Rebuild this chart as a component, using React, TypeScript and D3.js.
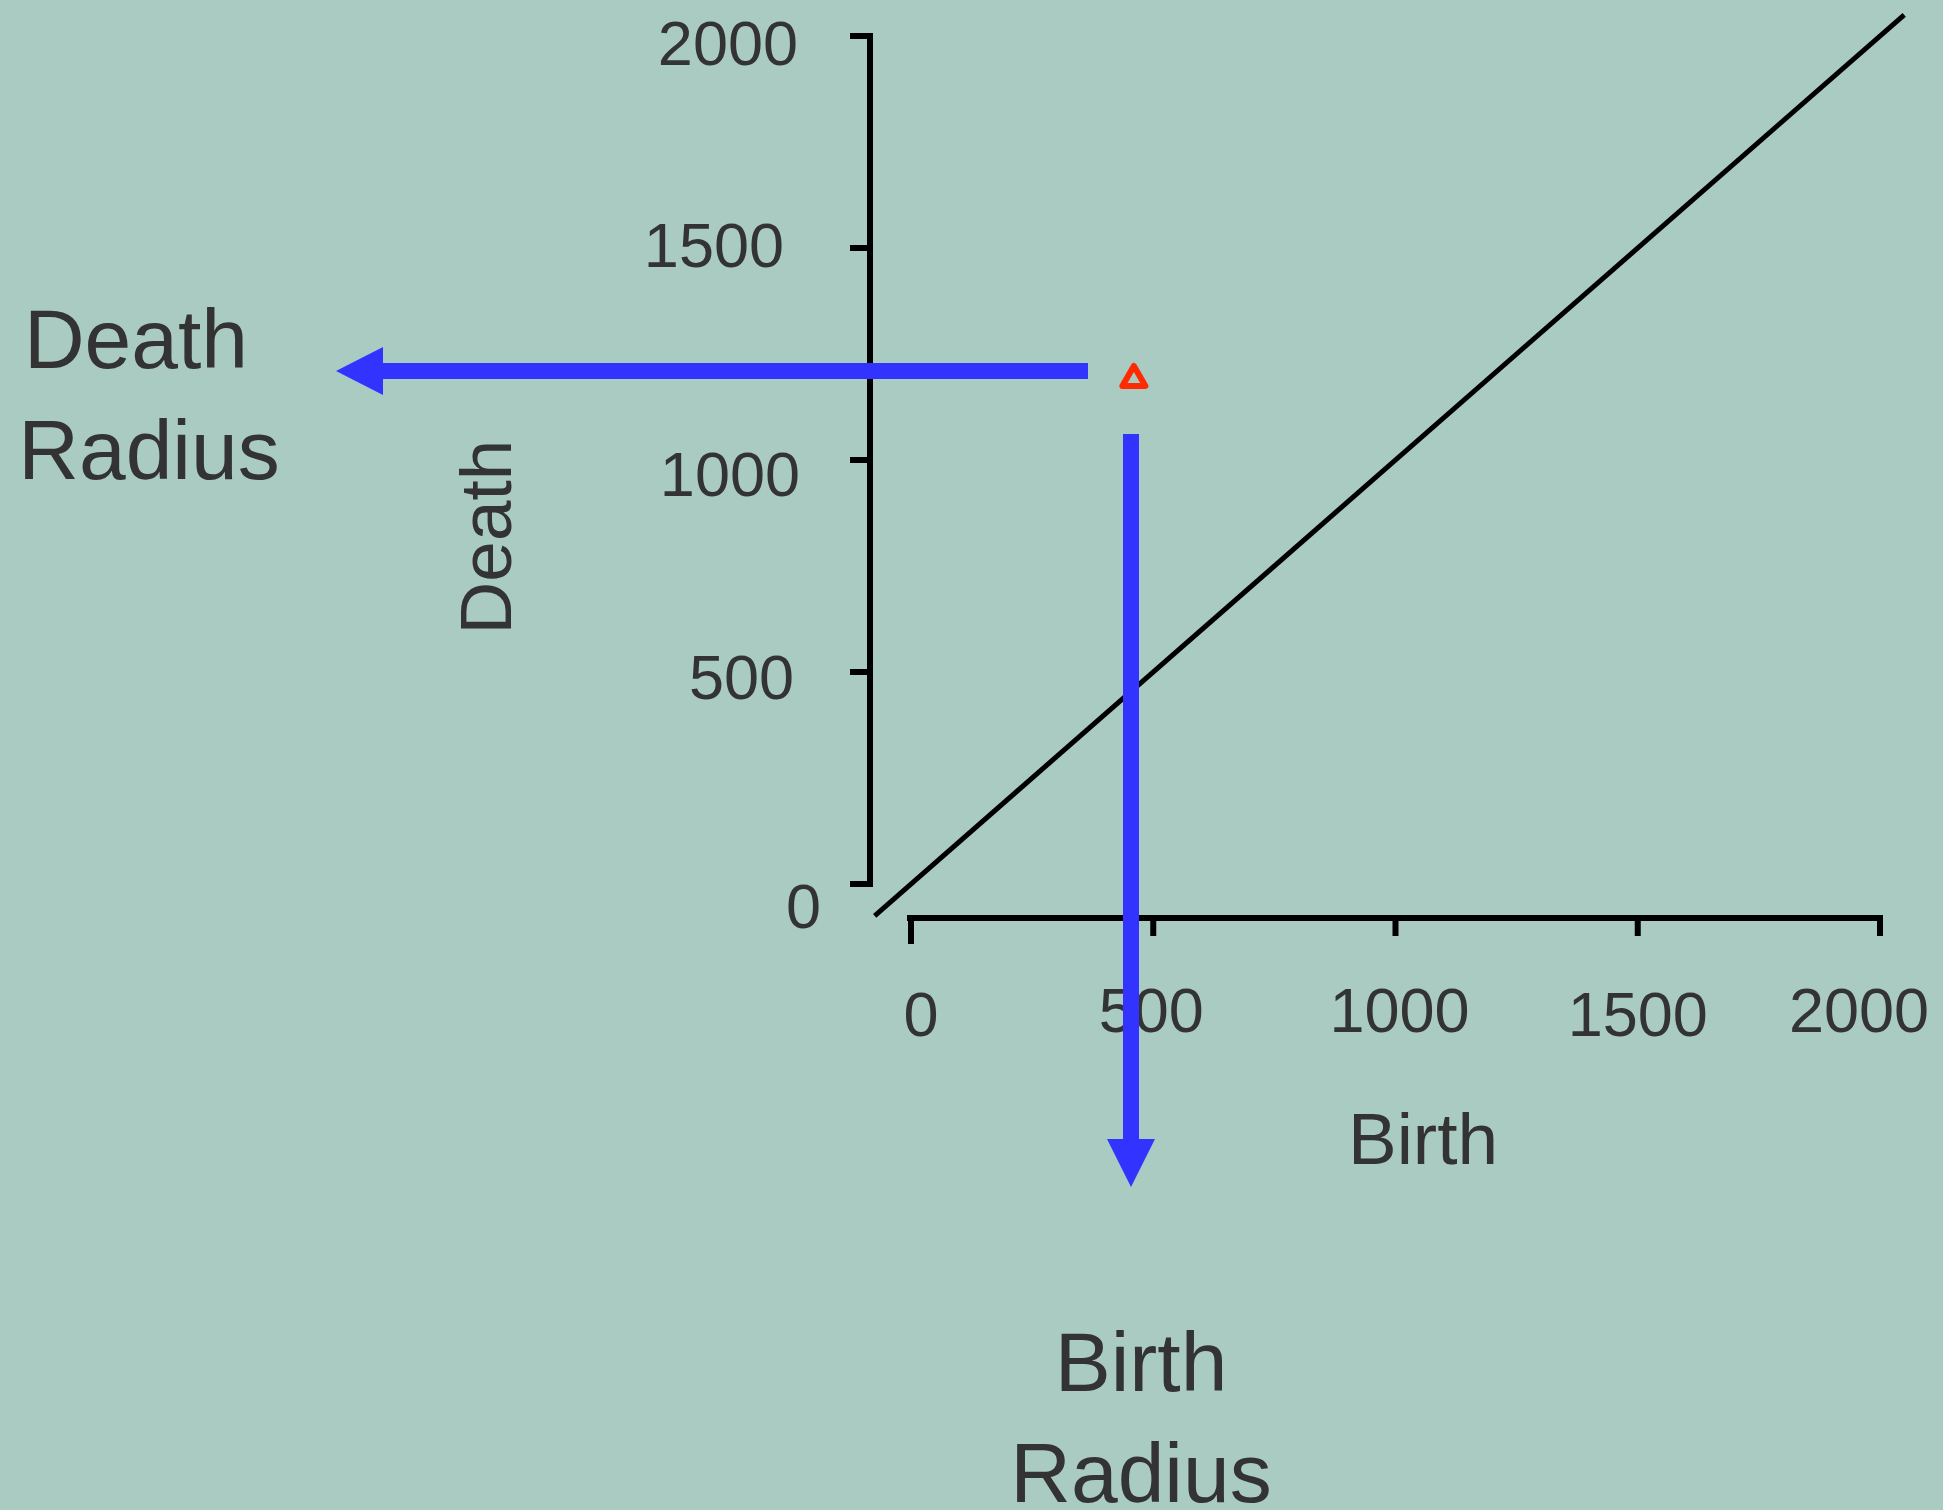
import React from "react";
import * as d3 from "d3";

const xTicks = [0, 500, 1000, 1500, 2000];
const yTicks = [0, 500, 1000, 1500, 2000];
const diagonal = [
  { birth: -75, death: -75 },
  { birth: 2050, death: 2050 },
];
const point = { birth: 460, death: 1195 };
const xTitle = "Birth";
const yTitle = "Death";
const leftLabel = ["Death", "Radius"];
const bottomLabel = ["Birth", "Radius"];

const W = 1943;
const H = 1510;
const BG = "#a9cbc2";
const TXT = "#333333";
const BLUE = "#3333ff";
const FONT = "'Liberation Sans', Arial, sans-serif";

// layout jitter of the original tick labels
const yLabelPos: Record<number, [number, number]> = {
  0: [821, 22],
  500: [794, 5],
  1000: [800, 14],
  1500: [784, -3],
  2000: [798, 7],
};
const xLabelPos: Record<number, [number, number]> = {
  0: [10, 1014],
  500: [-2, 1010],
  1000: [4, 1010],
  1500: [0, 1014],
  2000: [-21, 1010],
};

export default function App() {
  const x = d3.scaleLinear().domain([0, 2000]).range([911, 1880]);
  const y = d3.scaleLinear().domain([0, 2000]).range([884, 36]);
  const line = d3
    .line<{ birth: number; death: number }>()
    .x((d) => x(d.birth))
    .y((d) => y(d.death));

  const yAxisX = 870;
  const xAxisY = 918;
  const px = x(point.birth);
  const py = y(point.death);

  const tri = d3.symbol().type(d3.symbolTriangle).size(230)();

  const hY = 371;
  const hStart = 1088;
  const hTip = 336;
  const hHeadLen = 47;
  const hHeadHalf = 24;
  const vX = 1131;
  const vStart = 434;
  const vTip = 1187;
  const vHeadLen = 48;
  const vHeadHalf = 24;

  const SW = 6;

  return (
    <svg
      width={W}
      height={H}
      style={{ position: "absolute", left: 0, top: 0, display: "block" }}
    >
      <rect x={0} y={0} width={W} height={H} fill={BG} />

      <path d={line(diagonal) || ""} stroke="#000" strokeWidth={5} fill="none" />

      {/* y axis */}
      <path
        d={`M${yAxisX - 20},${y(2000)}H${yAxisX}V${y(0)}H${yAxisX - 20}`}
        stroke="#000"
        strokeWidth={SW}
        fill="none"
      />
      {yTicks.map((t) => (
        <g key={"yt" + t}>
          <line x1={yAxisX - 20} x2={yAxisX} y1={y(t)} y2={y(t)} stroke="#000" strokeWidth={SW} />
          <text
            x={yLabelPos[t][0]}
            y={y(t) + yLabelPos[t][1] + 22}
            textAnchor="end"
            fontFamily={FONT}
            fontSize={63}
            fill={TXT}
          >
            {t}
          </text>
        </g>
      ))}

      {/* x axis */}
      <path
        d={`M${x(0) - 4},${xAxisY}H${x(2000)}V${xAxisY + 18}`}
        stroke="#000"
        strokeWidth={SW}
        fill="none"
      />
      {xTicks.map((t) => (
        <g key={"xt" + t}>
          <line
            x1={x(t)}
            x2={x(t)}
            y1={xAxisY}
            y2={xAxisY + (t === 0 ? 26 : 18)}
            stroke="#000"
            strokeWidth={SW}
          />
          <text
            x={x(t) + xLabelPos[t][0]}
            y={xLabelPos[t][1] + 22}
            textAnchor="middle"
            fontFamily={FONT}
            fontSize={63}
            fill={TXT}
          >
            {t}
          </text>
        </g>
      ))}

      <text x={1423} y={1138 + 26} textAnchor="middle" fontFamily={FONT} fontSize={73} fill={TXT}>
        {xTitle}
      </text>
      <text
        transform={`translate(${485 + 26},537) rotate(-90)`}
        textAnchor="middle"
        fontFamily={FONT}
        fontSize={73}
        fill={TXT}
      >
        {yTitle}
      </text>

      {/* arrows */}
      <line x1={hStart} x2={hTip + hHeadLen - 1} y1={hY} y2={hY} stroke={BLUE} strokeWidth={16} />
      <path
        d={`M${hTip},${hY}L${hTip + hHeadLen},${hY - hHeadHalf}L${hTip + hHeadLen},${hY + hHeadHalf}Z`}
        fill={BLUE}
      />
      <line x1={vX} x2={vX} y1={vStart} y2={vTip - vHeadLen + 1} stroke={BLUE} strokeWidth={16} />
      <path
        d={`M${vX},${vTip}L${vX - vHeadHalf},${vTip - vHeadLen}L${vX + vHeadHalf},${vTip - vHeadLen}Z`}
        fill={BLUE}
      />

      <path
        d={tri || ""}
        transform={`translate(${px},${py + 2})`}
        fill="none"
        stroke="#ff2a00"
        strokeWidth={6}
        strokeLinejoin="round"
      />

      <text fontFamily={FONT} fontSize={84} fill={TXT}>
        <tspan x={136} y={338 + 30} textAnchor="middle">{leftLabel[0]}</tspan>
        <tspan x={149} y={449 + 30} textAnchor="middle">{leftLabel[1]}</tspan>
      </text>
      <text fontFamily={FONT} fontSize={84} fill={TXT}>
        <tspan x={1141} y={1361 + 30} textAnchor="middle">{bottomLabel[0]}</tspan>
        <tspan x={1141} y={1472 + 30} textAnchor="middle">{bottomLabel[1]}</tspan>
      </text>
    </svg>
  );
}
